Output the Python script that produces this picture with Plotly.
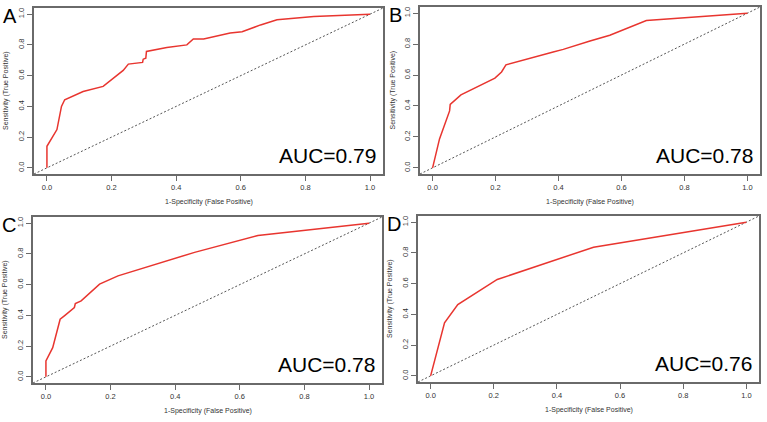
import plotly.graph_objects as go

W, H = 767, 422

# ---- data ----
panel_labels = ["A", "B", "C", "D"]
auc_labels = ["AUC=0.79", "AUC=0.78", "AUC=0.78", "AUC=0.76"]
tick_vals = [0.0, 0.2, 0.4, 0.6, 0.8, 1.0]
tick_text = ["0.0", "0.2", "0.4", "0.6", "0.8", "1.0"]

a_fpr = [0.0, 0.0, 0.031, 0.039, 0.045, 0.055, 0.112, 0.174, 0.236, 0.252, 0.296, 0.298,
         0.306, 0.308, 0.371, 0.433, 0.453, 0.485, 0.567, 0.604, 0.661, 0.712, 0.826, 1.0]
a_tpr = [0.0, 0.14, 0.249, 0.335, 0.40, 0.443, 0.497, 0.53, 0.634, 0.675, 0.686, 0.707,
         0.714, 0.757, 0.783, 0.80, 0.838, 0.838, 0.877, 0.885, 0.93, 0.963, 0.984, 1.0]

b_fpr = [0.0, 0.022, 0.054, 0.056, 0.09, 0.198, 0.219, 0.233, 0.383, 0.415, 0.50, 0.563, 0.679, 1.0]
b_tpr = [0.0, 0.187, 0.368, 0.41, 0.472, 0.58, 0.62, 0.666, 0.749, 0.766, 0.82, 0.857, 0.953, 1.0]

c_fpr = [0.0, 0.0, 0.021, 0.033, 0.044, 0.057, 0.088, 0.091, 0.109, 0.166, 0.223, 0.46, 0.656, 1.0]
c_tpr = [0.0, 0.104, 0.19, 0.278, 0.375, 0.397, 0.451, 0.477, 0.494, 0.603, 0.657, 0.81, 0.92, 1.0]

d_fpr = [0.0, 0.044, 0.086, 0.211, 0.516, 1.0]
d_tpr = [0.0, 0.345, 0.464, 0.627, 0.837, 1.0]

fprs = [a_fpr, b_fpr, c_fpr, d_fpr]
tprs = [a_tpr, b_tpr, c_tpr, d_tpr]

# ---- layout geometry (pixel boxes: left, right, top, bottom) ----
boxes = [(34, 383, 8, 174), (420, 760, 7, 174), (33, 382, 217, 383), (418, 759, 216, 382)]

FONT = "Liberation Sans, Arial, Helvetica, sans-serif"
RNG = [-0.04, 1.04]

fig = go.Figure()
annotations = []
layout = dict(
    width=W, height=H, autosize=False,
    margin=dict(l=0, r=0, t=0, b=0),
    paper_bgcolor="white", plot_bgcolor="white",
    showlegend=False,
    font=dict(family=FONT, color="#333"),
)

def px(x):
    return x / W

def py(y):
    return 1 - y / H

for i in range(4):
    l, r, t, b = boxes[i]
    xa = "x" if i == 0 else f"x{i+1}"
    ya = "y" if i == 0 else f"y{i+1}"
    xkey = "xaxis" if i == 0 else f"xaxis{i+1}"
    ykey = "yaxis" if i == 0 else f"yaxis{i+1}"
    axis_common = dict(
        range=RNG, showgrid=False, zeroline=False,
        showline=True, mirror=True, linecolor="#6a6a6a", linewidth=1.5,
        ticks="outside", ticklen=5, tickwidth=1, tickcolor="#6a6a6a",
        tickvals=tick_vals, ticktext=tick_text,
        tickfont=dict(family=FONT, size=7.5, color="#333"),
        fixedrange=True,
    )
    layout[xkey] = dict(axis_common, domain=[px(l), px(r)], anchor=ya)
    layout[ykey] = dict(axis_common, domain=[py(b), py(t)], anchor=xa, tickangle=-90)

    # diagonal reference line (corner to corner)
    fig.add_trace(go.Scatter(x=RNG, y=RNG, mode="lines", xaxis=xa, yaxis=ya,
                             line=dict(color="#555", width=1, dash="2px,2px"),
                             hoverinfo="skip"))
    # ROC curve
    fig.add_trace(go.Scatter(x=fprs[i], y=tprs[i], mode="lines", xaxis=xa, yaxis=ya,
                             line=dict(color="#e8352f", width=1.5)))

    # AUC text
    annotations.append(dict(text=auc_labels[i], xref="paper", yref="paper",
                            x=px(r - 5), y=py(b - 5), xanchor="right", yanchor="bottom",
                            showarrow=False,
                            font=dict(family=FONT, size=21, color="black")))
    # panel letter
    annotations.append(dict(text=panel_labels[i], xref="paper", yref="paper",
                            x=px(l - 34 + 1 if i % 2 == 0 else l - 33),
                            y=py(t + 8), xanchor="left", yanchor="middle",
                            showarrow=False,
                            font=dict(family=FONT, size=20, color="black")))
    # x axis title
    annotations.append(dict(text="1-Specificity (False Positive)", xref="paper", yref="paper",
                            x=px((l + r) / 2), y=py(b + 28), xanchor="center", yanchor="middle",
                            showarrow=False,
                            font=dict(family=FONT, size=7, color="#333")))
    # y axis title
    annotations.append(dict(text="Sensitivity (True Positive)", xref="paper", yref="paper",
                            x=px(l - 28), y=py((t + b) / 2), xanchor="center", yanchor="middle",
                            textangle=-90, showarrow=False,
                            font=dict(family=FONT, size=7, color="#333")))

layout["annotations"] = annotations
fig.update_layout(**layout)
fig.write_html("out.html")
